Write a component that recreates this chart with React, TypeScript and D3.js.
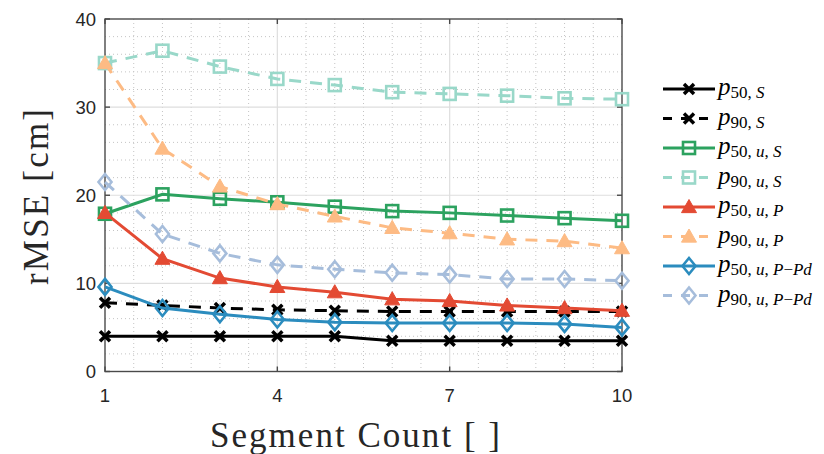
import React from "react";
import * as d3 from "d3";

const segments = [1, 2, 3, 4, 5, 6, 7, 8, 9, 10];
const p50S = [4, 4, 4, 4, 4, 3.5, 3.5, 3.5, 3.5, 3.5];
const p90S = [7.8, 7.5, 7.2, 7.0, 6.9, 6.8, 6.8, 6.8, 6.8, 6.8];
const p50uS = [17.9, 20.1, 19.6, 19.2, 18.7, 18.2, 18.0, 17.7, 17.4, 17.1];
const p90uS = [35.0, 36.4, 34.6, 33.2, 32.5, 31.7, 31.5, 31.3, 31.0, 30.9];
const p50uP = [18.0, 12.8, 10.6, 9.6, 9.0, 8.2, 8.0, 7.5, 7.2, 6.9];
const p90uP = [35.0, 25.3, 21.0, 19.0, 17.6, 16.3, 15.7, 15.0, 14.8, 14.0];
const p50uPPd = [9.6, 7.2, 6.5, 5.9, 5.6, 5.5, 5.5, 5.5, 5.4, 5.0];
const p90uPPd = [21.5, 15.6, 13.4, 12.1, 11.6, 11.2, 11.0, 10.5, 10.5, 10.3];
const xTicks = [1, 4, 7, 10];
const yTicks = [0, 10, 20, 30, 40];

type Marker = "x" | "square" | "triangle" | "diamond";
const seriesDefs: { name: string; sub: { t: string; it: boolean }[]; values: number[]; color: string; dashed: boolean; marker: Marker }[] = [
  { name: "p50S", sub: [{ t: "50,", it: false }, { t: " S", it: true }], values: p50S, color: "#000000", dashed: false, marker: "x" },
  { name: "p90S", sub: [{ t: "90,", it: false }, { t: " S", it: true }], values: p90S, color: "#000000", dashed: true, marker: "x" },
  { name: "p50uS", sub: [{ t: "50,", it: false }, { t: " u", it: true }, { t: ",", it: false }, { t: " S", it: true }], values: p50uS, color: "#2ca25f", dashed: false, marker: "square" },
  { name: "p90uS", sub: [{ t: "90,", it: false }, { t: " u", it: true }, { t: ",", it: false }, { t: " S", it: true }], values: p90uS, color: "#99d8c9", dashed: true, marker: "square" },
  { name: "p50uP", sub: [{ t: "50,", it: false }, { t: " u", it: true }, { t: ",", it: false }, { t: " P", it: true }], values: p50uP, color: "#e34a33", dashed: false, marker: "triangle" },
  { name: "p90uP", sub: [{ t: "90,", it: false }, { t: " u", it: true }, { t: ",", it: false }, { t: " P", it: true }], values: p90uP, color: "#fdbb84", dashed: true, marker: "triangle" },
  { name: "p50uPPd", sub: [{ t: "50,", it: false }, { t: " u", it: true }, { t: ",", it: false }, { t: " P", it: true }, { t: "\u2212", it: false }, { t: "Pd", it: true }], values: p50uPPd, color: "#2b8cbe", dashed: false, marker: "diamond" },
  { name: "p90uPPd", sub: [{ t: "90,", it: false }, { t: " u", it: true }, { t: ",", it: false }, { t: " P", it: true }, { t: "\u2212", it: false }, { t: "Pd", it: true }], values: p90uPPd, color: "#a6bddb", dashed: true, marker: "diamond" },
];

const W = 824;
const H = 454;
const L = 105, R = 622, T = 19, B = 371.5;

function MarkerShape({ type, x, y, color }: { type: Marker; x: number; y: number; color: string }) {
  if (type === "x") {
    const s = 5;
    return (
      <path d={`M${x - s},${y - s}L${x + s},${y + s}M${x - s},${y + s}L${x + s},${y - s}`} stroke={color} strokeWidth={3.5} fill="none" />
    );
  }
  if (type === "square") {
    const s = 6;
    return <rect x={x - s} y={y - s} width={2 * s} height={2 * s} stroke={color} strokeWidth={2.6} fill="none" />;
  }
  if (type === "triangle") {
    const s = 7.5;
    return <path d={`M${x},${y - s}L${x + s},${y + s * 0.75}L${x - s},${y + s * 0.75}Z`} fill={color} stroke={color} strokeWidth={1} />;
  }
  return <path d={`M${x},${y - 8}L${x + 6.5},${y}L${x},${y + 8}L${x - 6.5},${y}Z`} stroke={color} strokeWidth={2.6} fill="none" />;
}

export default function App() {
  const x = d3.scaleLinear().domain([1, 10]).range([L, R]);
  const y = d3.scaleLinear().domain([0, 40]).range([B, T]);
  const line = d3.line<number>().x((_, i) => x(segments[i])).y((d) => y(d));

  const minorX = d3.range(1, 10.01, 0.5).filter((v) => !xTicks.includes(v));
  const minorY = d3.range(0, 40.01, 2).filter((v) => !yTicks.includes(v));
  const axisColor = "#4a4a4a";
  const tickColor = "#262626";

  const legX0 = 663, legX1 = 715, legTx = 718, legY0 = 89, legDy = 29.5;

  return (
    <svg width={W} height={H} style={{ position: "absolute", left: 0, top: 0, background: "#fff" }}>
      <rect x={0} y={0} width={W} height={H} fill="#fff" />
      {minorX.map((v) => (
        <line key={"mx" + v} x1={x(v)} x2={x(v)} y1={T} y2={B} stroke="#c4c4c4" strokeWidth={1} strokeDasharray="1,3" />
      ))}
      {minorY.map((v) => (
        <line key={"my" + v} x1={L} x2={R} y1={y(v)} y2={y(v)} stroke="#c4c4c4" strokeWidth={1} strokeDasharray="1,3" />
      ))}
      {xTicks.slice(1, -1).map((v) => (
        <line key={"gx" + v} x1={x(v)} x2={x(v)} y1={T} y2={B} stroke="#dedede" strokeWidth={1.2} />
      ))}
      {yTicks.slice(1, -1).map((v) => (
        <line key={"gy" + v} x1={L} x2={R} y1={y(v)} y2={y(v)} stroke="#dedede" strokeWidth={1.2} />
      ))}
      <rect x={L} y={T} width={R - L} height={B - T} fill="none" stroke={axisColor} strokeWidth={1.4} />
      {xTicks.map((v) => (
        <g key={"xt" + v}>
          <line x1={x(v)} x2={x(v)} y1={B} y2={B - 5} stroke={axisColor} strokeWidth={1.4} />
          <line x1={x(v)} x2={x(v)} y1={T} y2={T + 5} stroke={axisColor} strokeWidth={1.4} />
          <text x={x(v)} y={402} textAnchor="middle" fontFamily="Liberation Sans, Arial, sans-serif" fontSize={18.5} fill={tickColor}>
            {v}
          </text>
        </g>
      ))}
      {yTicks.map((v) => (
        <g key={"yt" + v}>
          <line x1={L} x2={L + 5} y1={y(v)} y2={y(v)} stroke={axisColor} strokeWidth={1.4} />
          <line x1={R} x2={R - 5} y1={y(v)} y2={y(v)} stroke={axisColor} strokeWidth={1.4} />
          <text x={96} y={y(v) + 6.5} textAnchor="end" fontFamily="Liberation Sans, Arial, sans-serif" fontSize={18.5} fill={tickColor}>
            {v}
          </text>
        </g>
      ))}
      {seriesDefs.map((s) => (
        <g key={s.name}>
          <path d={line(s.values) || ""} fill="none" stroke={s.color} strokeWidth={3} strokeDasharray={s.dashed ? "12,9" : undefined} />
          {s.values.map((v, i) => (
            <MarkerShape key={i} type={s.marker} x={x(segments[i])} y={y(v)} color={s.color} />
          ))}
        </g>
      ))}
      <text x={355} y={447} textAnchor="middle" fontFamily="Liberation Serif, Times New Roman, serif" fontSize={35} fill="#262626" textLength={290} lengthAdjust="spacing">
        Segment Count [ ]
      </text>
      <text transform="translate(48,197) rotate(-90)" textAnchor="middle" fontFamily="Liberation Serif, Times New Roman, serif" fontSize={35} fill="#262626" textLength={176} lengthAdjust="spacing">
        rMSE [cm]
      </text>
      {seriesDefs.map((s, i) => {
        const ly = legY0 + i * legDy;
        return (
          <g key={"leg" + s.name}>
            <line x1={legX0} x2={legX1} y1={ly} y2={ly} stroke={s.color} strokeWidth={3} strokeDasharray={s.dashed ? "9,9" : undefined} />
            <MarkerShape type={s.marker} x={(legX0 + legX1) / 2} y={ly} color={s.color} />
            <text x={legTx} y={ly + 6} fontFamily="Liberation Serif, Times New Roman, serif" fontSize={25} fill="#000">
              <tspan fontStyle="italic">p</tspan>
              {s.sub.map((p, k) => (
                <tspan key={k} fontSize={17} dy={k === 0 ? 3 : 0} fontStyle={p.it ? "italic" : "normal"}>
                  {p.t}
                </tspan>
              ))}
            </text>
          </g>
        );
      })}
    </svg>
  );
}
